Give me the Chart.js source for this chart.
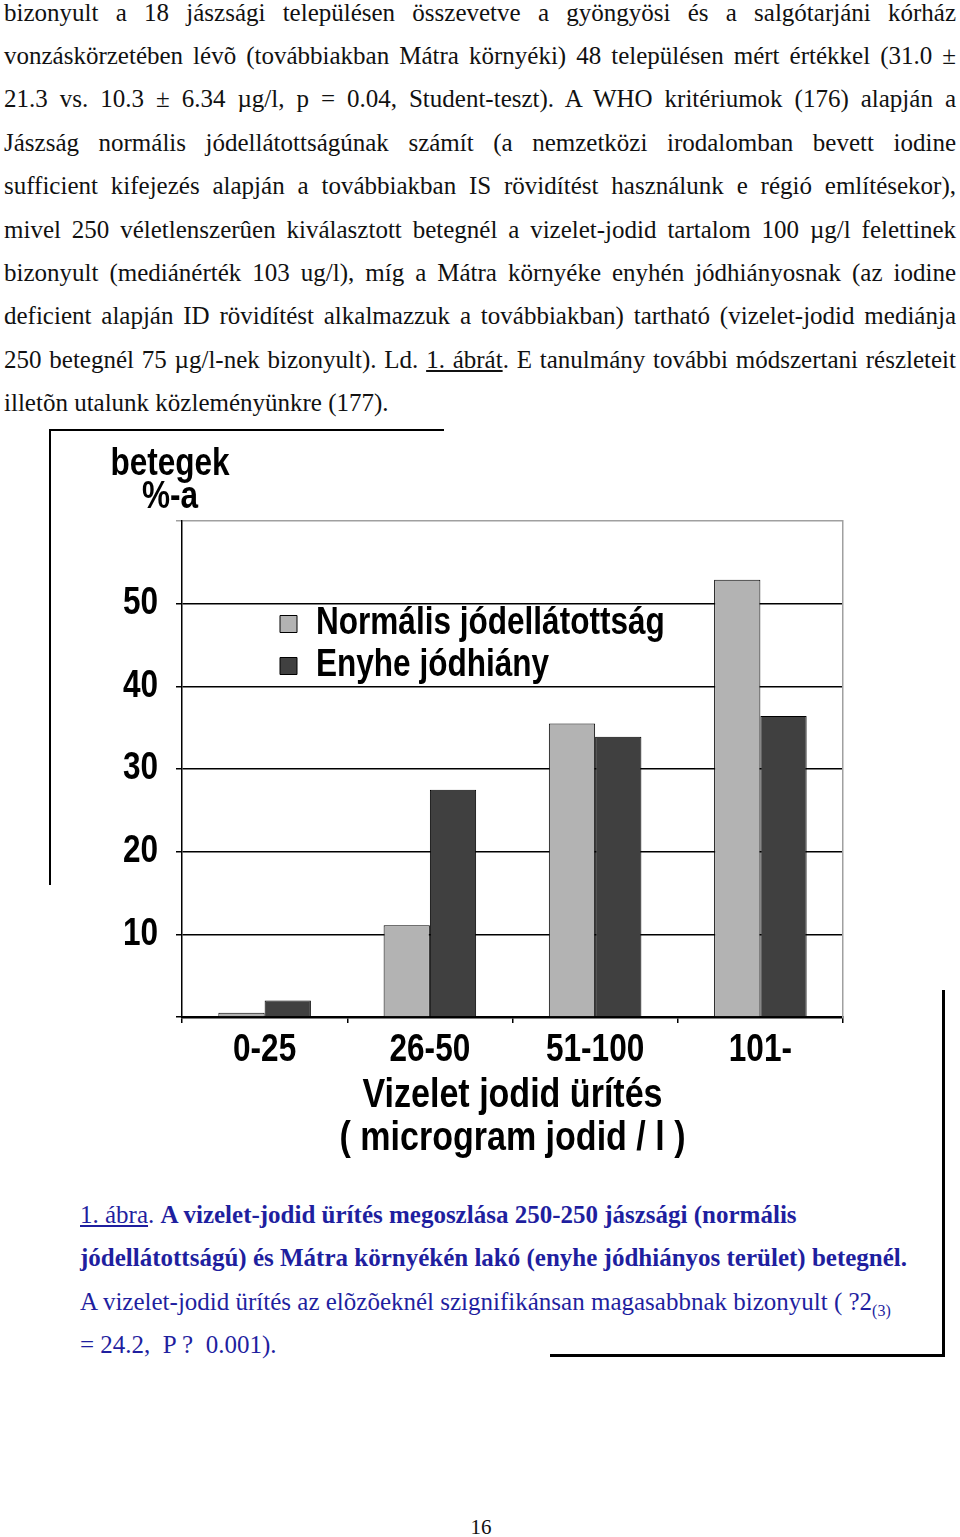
<!DOCTYPE html>
<html lang="hu">
<head>
<meta charset="utf-8">
<script src="https://cdn.jsdelivr.net/npm/chart.js@4.4.0/dist/chart.umd.min.js"></script>
<style>
  body { margin: 0; width: 960px; height: 1537px; background: #fff; position: relative; overflow: hidden; }
  .para { position: absolute; left: 4px; top: -9.5px; width: 952px; font-family: "Liberation Serif", "Times New Roman", serif; font-size: 25px; line-height: 43.4px; color: #111; }
  .para div { text-align: justify; text-align-last: justify; white-space: nowrap; }
  .para div.last { text-align-last: left; }
  .caption { position: absolute; left: 80px; top: 1193px; font-family: "Liberation Serif", "Times New Roman", serif; font-size: 25px; line-height: 43.4px; color: #1f1f9f; white-space: nowrap; }
  .caption .sub { font-size: 16px; position: relative; top: 6px; line-height: 0; }
  .line { position: absolute; background: #000; }
  #chartBox { position: absolute; left: 0; top: 440px; width: 900px; height: 730px; }
  .pagenum { position: absolute; left: 0; width: 962px; top: 1515px; text-align: center; font-family: "Liberation Serif", serif; font-size: 21px; color: #111; }
</style>
</head>
<body>
<div class="para">
  <div>bizonyult a 18 jászsági településen összevetve a gyöngyösi és a salgótarjáni kórház</div>
  <div>vonzáskörzetében lévõ (továbbiakban Mátra környéki) 48 településen mért értékkel (31.0 ±</div>
  <div>21.3 vs. 10.3 ± 6.34 µg/l, p = 0.04, Student-teszt). A WHO kritériumok (176) alapján a</div>
  <div>Jászság normális jódellátottságúnak számít (a nemzetközi irodalomban bevett iodine</div>
  <div>sufficient kifejezés alapján a továbbiakban IS rövidítést használunk e régió említésekor),</div>
  <div>mivel 250 véletlenszerûen kiválasztott betegnél a vizelet-jodid tartalom 100 µg/l felettinek</div>
  <div>bizonyult (mediánérték 103 ug/l), míg a Mátra környéke enyhén jódhiányosnak (az iodine</div>
  <div>deficient alapján ID rövidítést alkalmazzuk a továbbiakban) tartható (vizelet-jodid mediánja</div>
  <div>250 betegnél 75 µg/l-nek bizonyult). Ld. <u>1. ábrát</u>. E tanulmány további módszertani részleteit</div>
  <div class="last">illetõn utalunk közleményünkre (177).</div>
</div>

<div class="line" style="left:49px; top:429px; width:395px; height:2px;"></div>
<div class="line" style="left:49px; top:429px; width:2px; height:456px;"></div>
<div class="line" style="left:942px; top:990px; width:3px; height:367px;"></div>
<div class="line" style="left:550px; top:1354px; width:395px; height:3px;"></div>

<div id="chartBox"><canvas id="barchart"></canvas></div>

<div class="caption">
  <div><u>1. ábra</u>. <b>A vizelet-jodid ürítés megoszlása 250-250 jászsági (normális</b></div>
  <div><b>jódellátottságú) és Mátra környékén lakó (enyhe jódhiányos terület) betegnél.</b></div>
  <div>A vizelet-jodid ürítés az elõzõeknél szignifikánsan magasabbnak bizonyult ( ?2<span class="sub">(3)</span></div>
  <div>= 24.2,&nbsp; P ?&nbsp; 0.001).</div>
</div>

<div class="pagenum">16</div>

<script>
// Vizelet jodid ürítés - grouped bar chart
const categories = ["0-25", "26-50", "51-100", "101-"];
const normalValues = [0.5, 11.1, 35.5, 52.9]; // Normális jódellátottság
const mildValues = [2.0, 27.5, 33.9, 36.4]; // Enyhe jódhiány
const yTicks = [10, 20, 30, 40, 50];

const chartFont = "'Liberation Sans', Arial, sans-serif";

// the scanned chart uses a narrow bold face, so squeeze canvas text a bit
const narrowPlugin = {
  id: "narrow",
  beforeDraw(chart) {
    const ctx = chart.ctx;
    if (ctx._origFill) return;
    const orig = ctx.fillText;
    ctx._origFill = orig;
    ctx.fillText = function (text, x, y, maxWidth) {
      const w = this.measureText(text).width * 0.83;
      return orig.call(this, text, x, y, maxWidth !== undefined ? Math.min(maxWidth, w) : w);
    };
  },
  afterDraw(chart) {
    const ctx = chart.ctx;
    if (ctx._origFill) {
      ctx.fillText = ctx._origFill;
      delete ctx._origFill;
    }
  },
};

// y axis title drawn above the axis, horizontal
const yTitlePlugin = {
  id: "yTitle",
  afterDraw(chart) {
    const ctx = chart.ctx;
    const x = chart.chartArea.left - 12;
    ctx.save();
    ctx.fillStyle = "#000";
    ctx.font = "bold 38px " + chartFont;
    ctx.textAlign = "center";
    ctx.textBaseline = "middle";
    ctx.fillText("betegek", x, 25);
    ctx.fillText("%-a", x, 58);
    ctx.restore();
  },
};

// move the legend inside the plot
const legendPlugin = {
  id: "legendMove",
  afterLayout(chart) {
    const lg = chart.legend;
    const w = lg.right - lg.left;
    const h = lg.bottom - lg.top;
    lg.left = chart.chartArea.left + 94;
    lg.top = chart.chartArea.top + 80;
    lg.right = lg.left + w;
    lg.bottom = lg.top + h;
  },
};

new Chart(document.getElementById("barchart"), {
  type: "bar",
  data: {
    labels: categories,
    datasets: [
      {
        label: "Normális jódellátottság",
        data: normalValues,
        backgroundColor: "#b3b3b3",
        borderColor: "#000",
        borderWidth: 1,
        categoryPercentage: 0.56,
        barPercentage: 1.0,
      },
      {
        label: "Enyhe jódhiány",
        data: mildValues,
        backgroundColor: "#404040",
        borderColor: "#000",
        borderWidth: 1,
        categoryPercentage: 0.56,
        barPercentage: 1.0,
      },
    ],
  },
  options: {
    responsive: true,
    maintainAspectRatio: false,
    animation: false,
    layout: { padding: { top: 81, right: 57, left: 0, bottom: 0 } },
    plugins: {
      tooltip: { enabled: false },
      legend: {
        position: "chartArea",
        align: "start",
        labels: {
          color: "#000",
          font: { family: chartFont, size: 38, weight: "bold" },
          boxWidth: 17,
          boxHeight: 17,
          padding: 4,
        },
      },
    },
    scales: {
      x: {
        grid: { display: true, drawOnChartArea: false, drawTicks: true, tickLength: 6, color: "#000", lineWidth: 1.5 },
        border: { color: "#000", width: 2.5 },
        ticks: { color: "#000", padding: 5, font: { family: chartFont, size: 38, weight: "bold" } },
        title: {
          display: true,
          text: ["Vizelet jodid ürítés", "( microgram jodid / l )"],
          color: "#000",
          font: { family: chartFont, size: 41, weight: "bold", lineHeight: 1.05 },
          padding: { top: 0, bottom: 10 },
        },
        afterFit(scale) { scale.height = 153; },
      },
      y: {
        min: 0,
        max: 60,
        grid: {
          color: (ctx) => (ctx.tick && ctx.tick.value === 60 ? "#a0a0a0" : "#000"),
          lineWidth: 1.5,
          tickLength: 6,
        },
        border: { color: "#000", width: 1.5 },
        ticks: {
          stepSize: 10,
          color: "#000",
          padding: 18,
          font: { family: chartFont, size: 38, weight: "bold" },
          callback: (v) => (yTicks.includes(v) ? v : ""),
        },
        afterFit(scale) { scale.width = 182; },
      },
      y2: {
        position: "right",
        min: 0,
        max: 60,
        grid: { drawOnChartArea: false, drawTicks: false },
        border: { color: "#a0a0a0", width: 1.5 },
        ticks: { display: false },
      },
    },
  },
  plugins: [legendPlugin, yTitlePlugin, narrowPlugin],
});
// Vizelet jodid ürítés - grouped bar chart
</script>
</body>
</html>
